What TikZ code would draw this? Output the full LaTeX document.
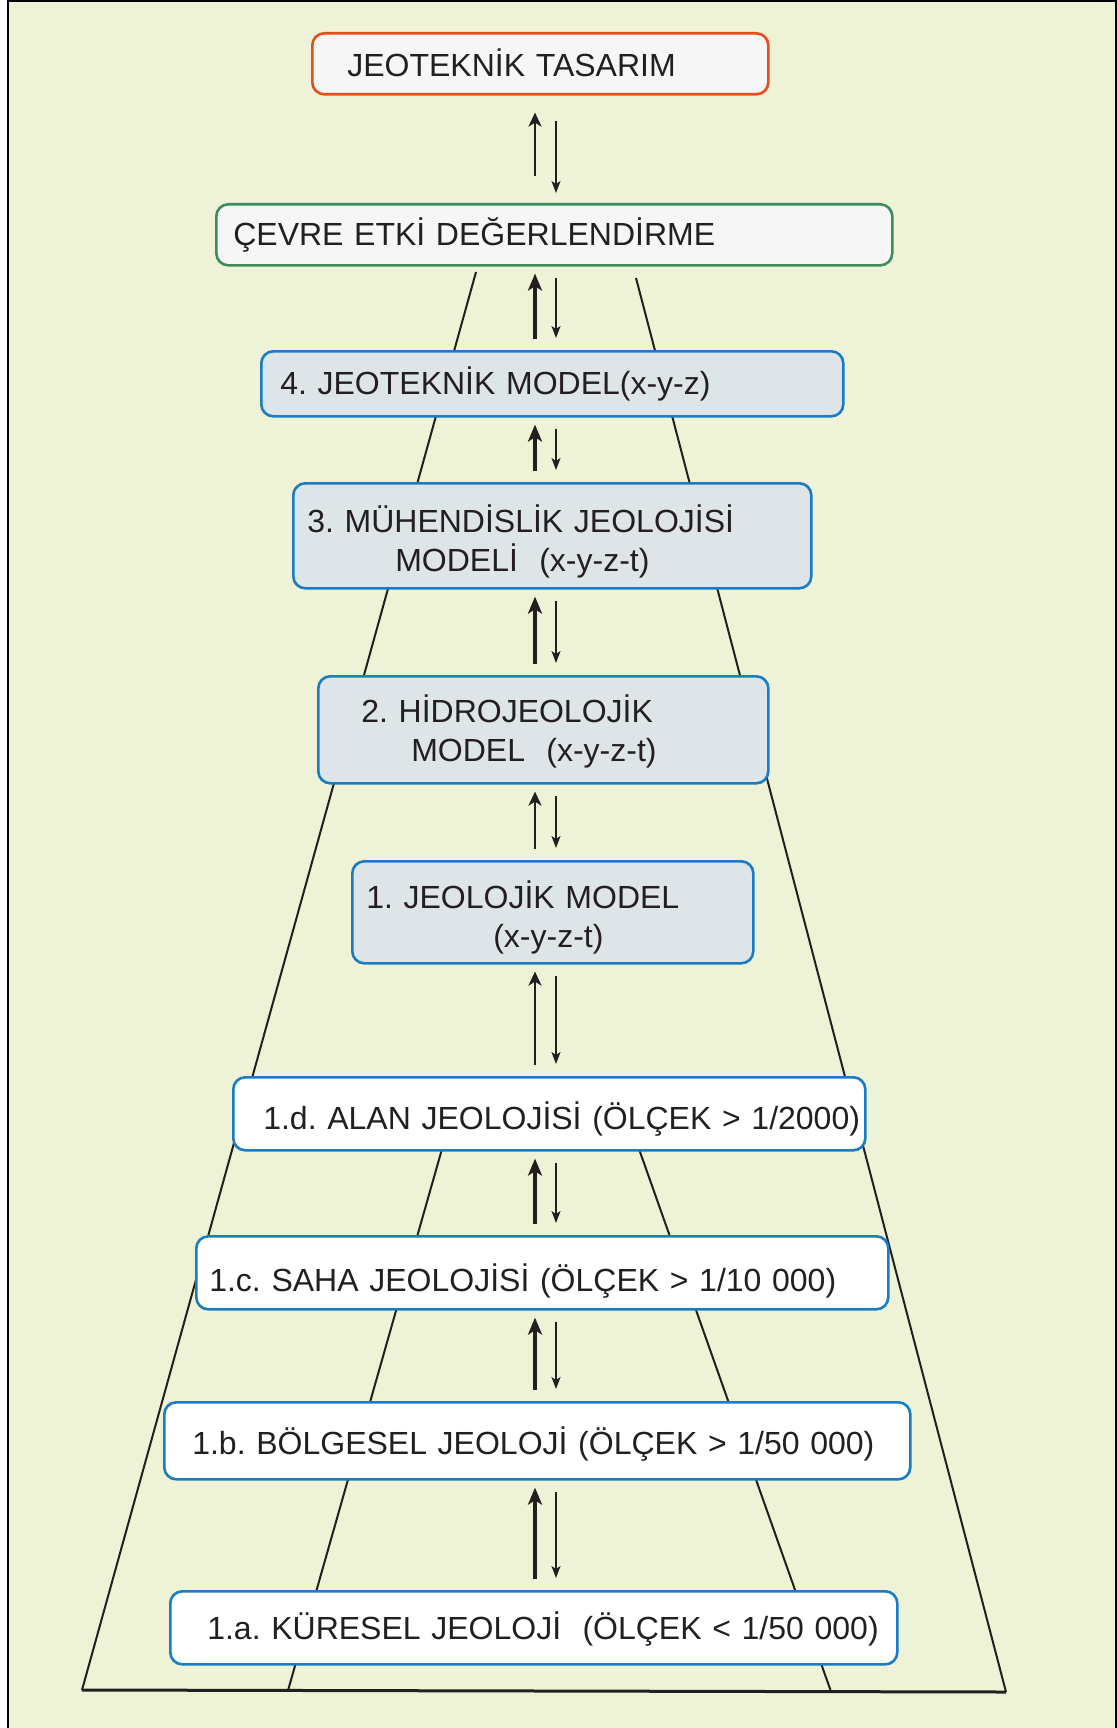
\documentclass[tikz,border=0pt]{standalone}
\usepackage{fontspec}
\setmainfont{Liberation Sans}
\usetikzlibrary{arrows.meta,calc}
\definecolor{GeoPaper}{HTML}{EEF2D6}
\definecolor{GeoRed}{HTML}{E84E1B}
\definecolor{GeoGreen}{HTML}{3E8C5C}
\definecolor{GeoBlue}{HTML}{1A7CC3}
\definecolor{GeoGray}{HTML}{DEE5E8}
\definecolor{GeoWhite}{HTML}{F6F6F6}
\definecolor{GeoInk}{HTML}{231F20}
\tikzset{
  geobox/.style={anchor=north west,rounded corners=6pt,line width=1.3pt,inner xsep=0pt,inner ysep=1pt,align=left,text=GeoInk,font=\fontsize{16}{19.5}\selectfont},
  designbox/.style={geobox,draw=GeoRed,fill=GeoWhite},
  envbox/.style={geobox,draw=GeoGreen,fill=GeoWhite},
  modelbox/.style={geobox,draw=GeoBlue,fill=GeoGray},
  scalebox/.style={geobox,draw=GeoBlue,fill=white},
  uparrow/.style={-{Stealth[length=8.5pt,width=7pt,inset=2.2pt]},line width=2.4pt,draw=GeoInk,shorten <=5.5pt,shorten >=3.5pt},
  upthin/.style={-{Stealth[length=7pt,width=6.5pt,inset=2pt]},line width=1.2pt,draw=GeoInk,shorten <=5.5pt,shorten >=3.5pt},
  downarrow/.style={-{Stealth[length=6pt,width=4.5pt,inset=1.5pt]},line width=0.7pt,draw=GeoInk,shorten <=5.5pt,shorten >=6pt},
  funnel/.style={line width=1pt,draw=GeoInk}
}
% #1 drop of the line, #2 indent, #3 text
\newcommand{\indline}[3][0pt]{\hspace*{#2}\raisebox{-#1}[\height][\depth]{\mbox{#3}}}
\frenchspacing

\begin{document}
\begin{tikzpicture}[x=0.5pt,y=-0.5pt]
\useasboundingbox (0,0) rectangle (1117,1728);
\fill[white] (0,0) rectangle (1117,1728);
\fill[GeoPaper] (8,0) rectangle (1117,1728);
\draw[line width=1.3pt] (8,1728) |- (1116,1.2) -- (1116,1728);

% funnel behind the boxes
\coordinate (outtl) at (476,272);
\coordinate (outtr) at (636,278);
\coordinate (outbl) at (82,1690);
\coordinate (outbr) at (1006,1692);
\coordinate (intl) at (442,1149);
\coordinate (intr) at (639,1149);
\coordinate (inbl) at (288,1690.5);
\coordinate (inbr) at (831,1691.6);
\draw[funnel] (outtl) -- (outbl);
\draw[funnel] (outtr) -- (outbr);
\draw[funnel] (intl) -- (inbl);
\draw[funnel] (intr) -- (inbr);
\draw[funnel,line width=1.5pt] (outbl) -- (outbr);

% boxes
\node[designbox,text width=228pt,minimum height=30.5pt] (design) at (311,32) {\indline[-0.5pt]{17.5pt}{JEOTEKNİK TASARIM}};
\node[envbox,text width=338pt,minimum height=30.5pt] (envir) at (215,203) {\indline{8.5pt}{ÇEVRE ETKİ DEĞERLENDİRME}};
\node[modelbox,text width=291pt,minimum height=32.5pt] (m4) at (260,350) {\indline{9.5pt}{4. JEOTEKNİK MODEL(x-y-z)}};
\node[modelbox,text width=259pt,minimum height=52.5pt] (m3) at (292,482) {\indline[2.7pt]{7pt}{3. MÜHENDİSLİK JEOLOJİSİ}\\\indline[2.7pt]{51pt}{MODELİ\ \ (x-y-z-t)}};
\node[modelbox,text width=225pt,minimum height=53.5pt] (m2) at (317,675) {\indline[1pt]{21.5pt}{2. HİDROJEOLOJİK}\\\indline[1pt]{46.5pt}{MODEL\ \ (x-y-z-t)}};
\node[modelbox,text width=200.5pt,minimum height=51pt] (m1) at (351,860) {\indline[2.7pt]{7pt}{1. JEOLOJİK MODEL}\\\indline[2.7pt]{70.5pt}{(x-y-z-t)}};
\node[scalebox,text width=316pt,minimum height=36.5pt] (s4) at (232,1076) {\indline[2.7pt]{15pt}{1.d. ALAN JEOLOJİSİ (ÖLÇEK > 1/2000)}};
\node[scalebox,text width=346pt,minimum height=36.5pt] (s3) at (195,1235) {\indline[4.2pt]{6.5pt}{1.c. SAHA JEOLOJİSİ (ÖLÇEK > 1/10 000)}};
\node[scalebox,text width=373pt,minimum height=38.5pt] (s2) at (163,1401) {\indline[1.6pt]{14pt}{1.b. BÖLGESEL JEOLOJİ (ÖLÇEK > 1/50 000)}};
\node[scalebox,text width=363.5pt,minimum height=36.5pt] (s1) at (169,1590) {\indline[0.6pt]{18.5pt}{1.a. KÜRESEL JEOLOJİ\ \ (ÖLÇEK < 1/50 000)}};

% two-way arrows
\coordinate (upx) at (535,0);
\coordinate (dnx) at (556,0);
\draw[upthin,shorten <=13.5pt,shorten >=8.5pt] (envir.north -| upx) -- (design.south -| upx);
\draw[downarrow,shorten <=12.5pt,shorten >=5pt] (design.south -| dnx) -- (envir.north -| dnx);
\draw[uparrow] (m4.north -| upx) -- (envir.south -| upx);
\draw[downarrow] (envir.south -| dnx) -- (m4.north -| dnx);
\draw[uparrow] (m3.north -| upx) -- (m4.south -| upx);
\draw[downarrow] (m4.south -| dnx) -- (m3.north -| dnx);
\draw[uparrow] (m2.north -| upx) -- (m3.south -| upx);
\draw[downarrow] (m3.south -| dnx) -- (m2.north -| dnx);
\draw[upthin] (m1.north -| upx) -- (m2.south -| upx);
\draw[downarrow] (m2.south -| dnx) -- (m1.north -| dnx);
\draw[upthin] (s4.north -| upx) -- (m1.south -| upx);
\draw[downarrow] (m1.south -| dnx) -- (s4.north -| dnx);
\draw[uparrow] (s3.north -| upx) -- (s4.south -| upx);
\draw[downarrow] (s4.south -| dnx) -- (s3.north -| dnx);
\draw[uparrow] (s2.north -| upx) -- (s3.south -| upx);
\draw[downarrow] (s3.south -| dnx) -- (s2.north -| dnx);
\draw[uparrow] (s1.north -| upx) -- (s2.south -| upx);
\draw[downarrow] (s2.south -| dnx) -- (s1.north -| dnx);
\end{tikzpicture}
\end{document}
